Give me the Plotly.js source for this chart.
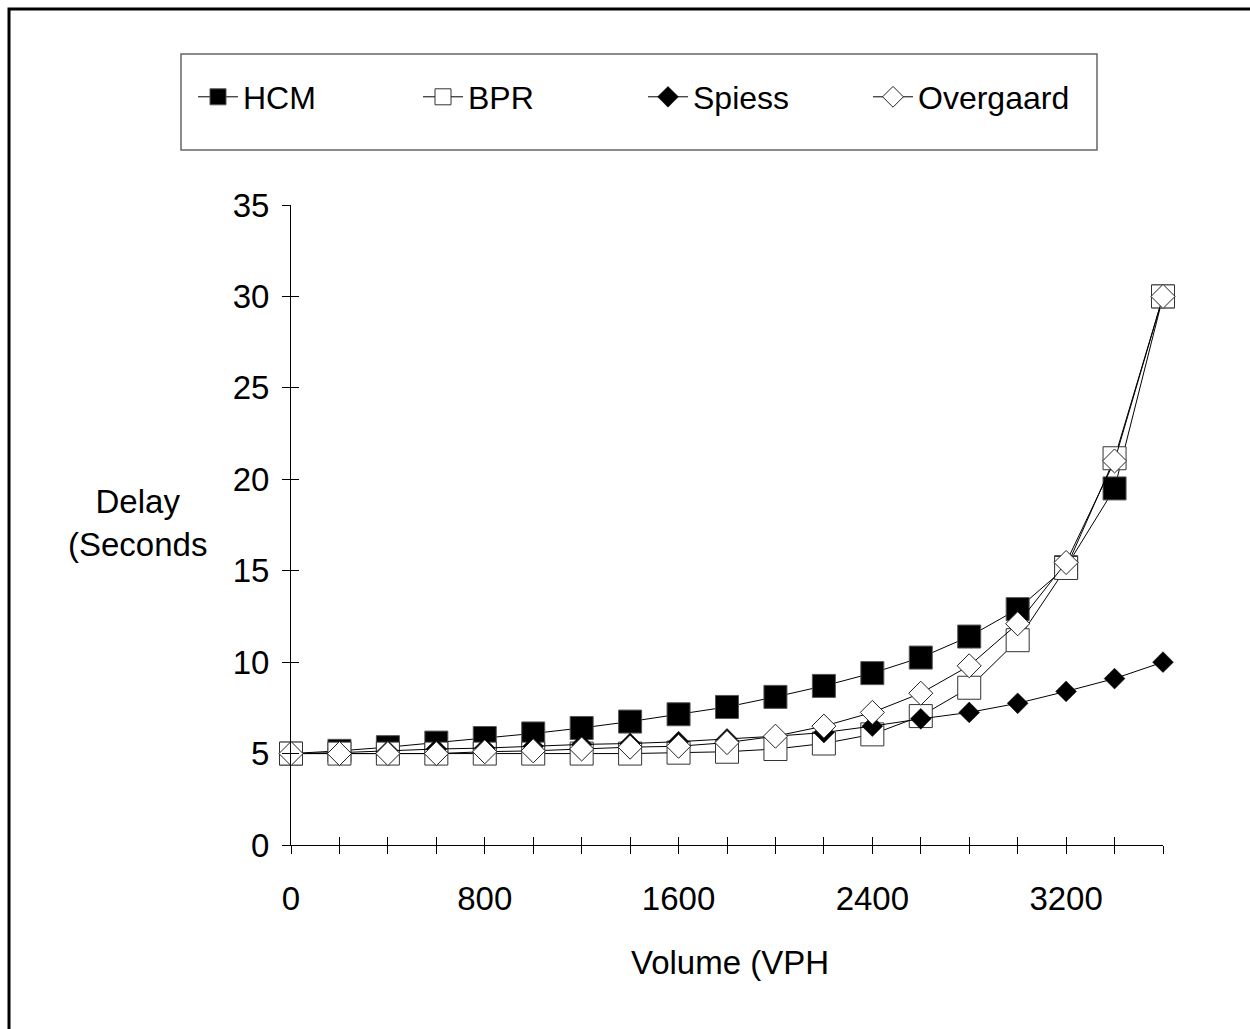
<!DOCTYPE html>
<html>
<head>
<meta charset="utf-8">
<script src="https://cdn.plot.ly/plotly-3.0.1.min.js"></script>
<style>
  html, body { margin: 0; padding: 0; background: #ffffff; }
  #chart { width: 1250px; height: 1029px; }
</style>
</head>
<body>
<div id="chart"></div>
<script>
// ---- data ----
const volume = [0, 200, 400, 600, 800, 1000, 1200, 1400, 1600, 1800,
                2000, 2200, 2400, 2600, 2800, 3000, 3200, 3400, 3600];
const hcm = [5.0, 5.15, 5.35, 5.6, 5.85, 6.1, 6.4, 6.75, 7.15, 7.55,
             8.1, 8.7, 9.4, 10.25, 11.4, 12.9, 15.2, 19.5, 30.0];
const bpr = [5.0, 5.0, 5.0, 5.0, 5.0, 5.0, 5.0, 5.0, 5.05, 5.1,
             5.25, 5.55, 6.05, 7.05, 8.6, 11.2, 15.15, 21.15, 30.0];
const spiess = [5.0, 5.05, 5.15, 5.25, 5.3, 5.4, 5.5, 5.55, 5.65, 5.8,
                5.95, 6.15, 6.5, 6.9, 7.25, 7.75, 8.4, 9.1, 10.0];
const overgaard = [5.0, 5.0, 5.0, 5.0, 5.1, 5.15, 5.25, 5.35, 5.4, 5.6,
                   5.95, 6.5, 7.25, 8.3, 9.8, 12.1, 15.45, 21.0, 30.0];
const seriesNames = ["HCM", "BPR", "Spiess", "Overgaard"];
const xTickVals = [0, 200, 400, 600, 800, 1000, 1200, 1400, 1600, 1800,
                   2000, 2200, 2400, 2600, 2800, 3000, 3200, 3400, 3600];
const xTickText = ["0", "", "", "", "800", "", "", "", "1600", "",
                   "", "", "2400", "", "", "", "3200", "", ""];
const yTickVals = [0, 5, 10, 15, 20, 25, 30, 35];
const xTitle = "Volume (VPH";
const yTitle = "Delay<br>(Seconds";

// ---- styling / layout ----
const FONT = "Liberation Sans, Arial, sans-serif";
const W = 1250, H = 1029;
const L = 291, R = 1163, T = 205, B = 845;
const px2x = p => (p - L) / (R - L);
const px2y = p => (B - p) / (B - T);

const lineStyle = {color: "#000000", width: 1};
const traces = [
  {x: volume, y: hcm, name: seriesNames[0], mode: "lines+markers",
   line: lineStyle, cliponaxis: false,
   marker: {symbol: "square", size: 23, color: "#000000", line: {color: "#555555", width: 1}}},
  {x: volume, y: bpr, name: seriesNames[1], mode: "lines+markers",
   line: lineStyle, cliponaxis: false,
   marker: {symbol: "square", size: 23, color: "#ffffff", line: {color: "#333333", width: 1}}},
  {x: volume, y: spiess, name: seriesNames[2], mode: "lines+markers",
   line: lineStyle, cliponaxis: false,
   marker: {symbol: "diamond", size: 16, color: "#000000", line: {color: "#000000", width: 0.5}}},
  {x: volume, y: overgaard, name: seriesNames[3], mode: "lines+markers",
   line: lineStyle, cliponaxis: false,
   marker: {symbol: "diamond", size: 18.5, color: "#ffffff", line: {color: "#222222", width: 1}}},
  {x: [], y: [], xaxis: "x2", yaxis: "y2", showlegend: false, hoverinfo: "skip"}
];

const axisFont = {family: FONT, size: 33, color: "#000000"};

const layout = {
  width: W, height: H,
  paper_bgcolor: "#ffffff", plot_bgcolor: "#ffffff",
  margin: {l: L, r: W - R, t: T, b: H - B, pad: 0},
  font: {family: FONT, color: "#000000"},
  showlegend: true,
  legend: {
    orientation: "h",
    x: px2x(193), xanchor: "left",
    y: px2y(97), yanchor: "middle",
    bgcolor: "rgba(0,0,0,0)", borderwidth: 0,
    font: {family: FONT, size: 32, color: "#000000"},
    entrywidth: 170, entrywidthmode: "pixels",
    itemwidth: 40
  },
  xaxis: {
    range: [0, 3600], fixedrange: true,
    showgrid: false, zeroline: false,
    showline: true, linecolor: "#000000", linewidth: 1,
    tickmode: "array", tickvals: xTickVals, ticktext: xTickText,
    ticks: "outside", ticklen: 8, tickwidth: 1, tickcolor: "#000000",
    tickfont: axisFont, ticklabelstandoff: 16
  },
  yaxis: {
    range: [0, 35], fixedrange: true,
    showgrid: false, zeroline: false,
    showline: true, linecolor: "#000000", linewidth: 1,
    tickmode: "array", tickvals: yTickVals,
    ticks: "outside", ticklen: 8, tickwidth: 1, tickcolor: "#000000",
    tickfont: axisFont, ticklabelstandoff: 6
  },
  xaxis2: {
    overlaying: "x", range: [0, 3600], side: "bottom",
    showgrid: false, zeroline: false, showline: false,
    tickmode: "array", tickvals: xTickVals, showticklabels: false,
    ticks: "inside", ticklen: 8, tickwidth: 1, tickcolor: "#000000"
  },
  yaxis2: {
    overlaying: "y", range: [0, 35], side: "left",
    showgrid: false, zeroline: false, showline: false,
    tickmode: "array", tickvals: yTickVals, showticklabels: false,
    ticks: "inside", ticklen: 8, tickwidth: 1, tickcolor: "#000000"
  },
  annotations: [
    {text: yTitle, xref: "paper", yref: "paper",
     x: px2x(137), y: px2y(523), xanchor: "center", yanchor: "middle",
     showarrow: false, align: "center",
     font: {family: FONT, size: 33, color: "#000000"}},
    {text: xTitle, xref: "paper", yref: "paper",
     x: px2x(730), y: px2y(962), xanchor: "center", yanchor: "middle",
     showarrow: false,
     font: {family: FONT, size: 33, color: "#000000"}}
  ],
  shapes: [
    {type: "rect", xref: "paper", yref: "paper", layer: "below",
     x0: px2x(9), x1: px2x(1300), y0: px2y(1080), y1: px2y(9),
     line: {color: "#000000", width: 3}, fillcolor: "rgba(0,0,0,0)"},
    {type: "rect", xref: "paper", yref: "paper", layer: "below",
     x0: px2x(181), x1: px2x(1097), y0: px2y(150), y1: px2y(54),
     line: {color: "#666666", width: 1.5}, fillcolor: "rgba(0,0,0,0)"}
  ]
};

Plotly.newPlot("chart", traces, layout, {staticPlot: true, displayModeBar: false});
</script>
</body>
</html>
